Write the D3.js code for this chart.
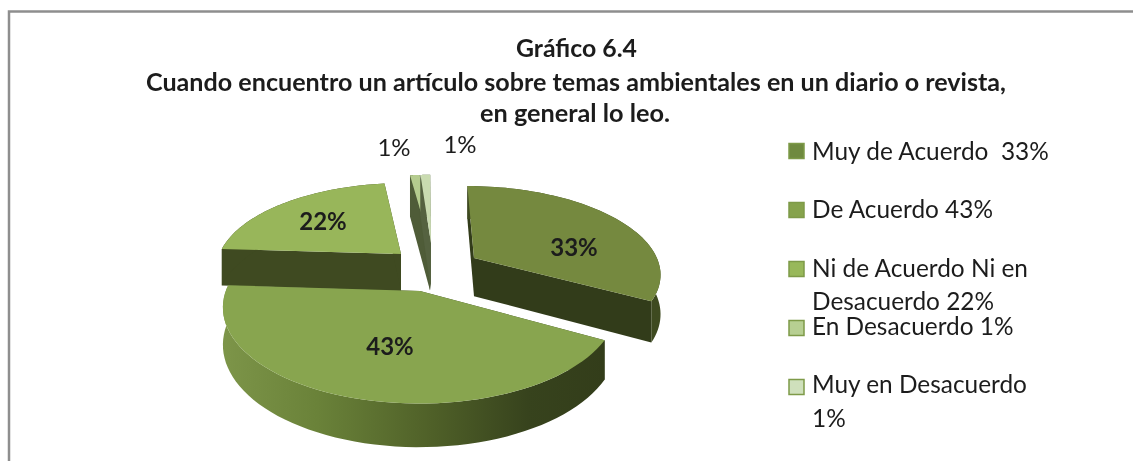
<!DOCTYPE html>
<html><head><meta charset="utf-8">
<script src="https://cdn.jsdelivr.net/npm/d3@7"></script>
<style>
html,body{margin:0;padding:0;background:#fff;overflow:hidden}
svg{display:block;filter:blur(0.45px)}
text{font-family:Lato,Carlito,"Open Sans",sans-serif;fill:#1c1c1c;white-space:pre}
</style></head><body>
<svg id="c" width="1133" height="461"></svg>
<script>
const categories = ["Muy de Acuerdo","De Acuerdo","Ni de Acuerdo Ni en Desacuerdo","En Desacuerdo","Muy en Desacuerdo"];
const values = [33,43,22,1,1];
const valueLabels = ["33%","43%","22%","1%","1%"];
const titleLines = ["Gráfico 6.4","Cuando encuentro un artículo sobre temas ambientales en un diario o revista,","en general lo leo."];
const legendLines = [["Muy de Acuerdo  33%"],["De Acuerdo 43%"],["Ni de Acuerdo Ni en","Desacuerdo 22%"],["En Desacuerdo 1%"],["Muy en Desacuerdo","1%"]];

const topColors = ["#75893f","#88a54f","#98b65a","#b5cc8f","#c9dbb0"];
const wallColors = ["#323c1a","#3a4520","#3f4a21","#4f5c38","#556240"];
const swatchColors = ["#6f8a3f","#86a34c","#98b85a","#b7cf92","#cfe0bc"];
const apexes = [[474,258],[420,291],[401,254],[430,243],[431,243]];
const wallDepths = [39,35,38,50,50];
const labelPos = [[574,256],[390,355],[323,230],[394,156],[460,153]];
const labelBold = [true,true,true,false,false];
const legendSwatchY = [151,210,269,328,387];
const legendBaselines = [[160],[218],[277,310],[335],[393,427]];
const titleY = [57,91,122];
const titleWidths = [121,860,190];

const svg = d3.select("#c");
const P = {cx:425, cy:270, R:187, ry:87, k:0.16};
const proj = (X,Y,Z=0)=>{const s=1/(1+P.k*Y);return [P.cx+P.R*X*s, P.cy-P.ry*Y*s+Z*s];};
const unproj = ([sx,sy])=>{const d=P.cy-sy;const Y=d/(P.ry-P.k*d);const s=1/(1+P.k*Y);return [(sx-P.cx)/(P.R*s),Y];};

// frame: only the top and left edges show
svg.append("path").attr("d","M9,461V11.5H1133").attr("fill","none").attr("stroke","#8e8e8e").attr("stroke-width",2.5);

const defs = svg.append("defs");
const grad = defs.append("linearGradient").attr("id","frontWall").attr("gradientUnits","userSpaceOnUse")
  .attr("x1",222).attr("x2",604).attr("y1",0).attr("y2",0);
[[0,"#7d9549"],[0.25,"#6a8239"],[0.55,"#4f6028"],[0.8,"#37431d"],[1,"#333d1a"]].forEach(([o,c])=>grad.append("stop").attr("offset",o).attr("stop-color",c));

const arcs = d3.pie().sort(null).value(d=>d)(values);
const line = d3.line();
const drawOrder = [3,4,2,0,1];
drawOrder.forEach(i=>{
  const a = arcs[i];
  const [gx,gy] = unproj(apexes[i]);
  const D = wallDepths[i];
  const N = 60;
  const thetas = d3.range(N+1).map(j=>a.startAngle+(a.endAngle-a.startAngle)*j/N);
  const rim = (Z)=>thetas.map(t=>proj(gx+Math.sin(t),gy+Math.cos(t),Z));
  const ap0 = proj(gx,gy,0), ap1 = proj(gx,gy,D);
  const g = svg.append("g");
  const top = rim(0), bot = rim(D);
  g.append("path").attr("d",line([ap0,top[0],bot[0],ap1])+"Z").attr("fill",wallColors[i]);
  g.append("path").attr("d",line([ap0,top[N],bot[N],ap1])+"Z").attr("fill",wallColors[i]);
  g.append("path").attr("d",line(top.concat(bot.slice().reverse()))+"Z")
    .attr("fill",i===1?"url(#frontWall)":(i===0?"#3e4a20":wallColors[i]));
  g.append("path").attr("d",line([ap0].concat(top))+"Z").attr("fill",topColors[i]);
});

// labels
valueLabels.forEach((t,i)=>svg.append("text").attr("x",labelPos[i][0]).attr("y",labelPos[i][1])
  .attr("text-anchor","middle").attr("font-size",24).attr("font-weight",labelBold[i]?700:400).text(t));

// title
titleLines.forEach((t,i)=>svg.append("text").attr("x",i==0?576.5:(i==1?576:575)).attr("y",titleY[i]).attr("text-anchor","middle")
  .attr("font-size",24).attr("font-weight",700).attr("fill","#111")
  .attr("textLength",titleWidths[i]).attr("lengthAdjust","spacingAndGlyphs").text(t));

// legend
categories.forEach((c,i)=>{
  svg.append("rect").attr("x",789).attr("y",legendSwatchY[i]-7.5).attr("width",15).attr("height",15)
    .attr("fill",swatchColors[i]).attr("stroke","#7e9a48").attr("stroke-width",1.5);
  legendLines[i].forEach((t,j)=>svg.append("text").attr("x",812).attr("y",legendBaselines[i][j])
    .attr("font-size",24.4).attr("fill","#2a2a2a").text(t));
});
</script></body></html>
